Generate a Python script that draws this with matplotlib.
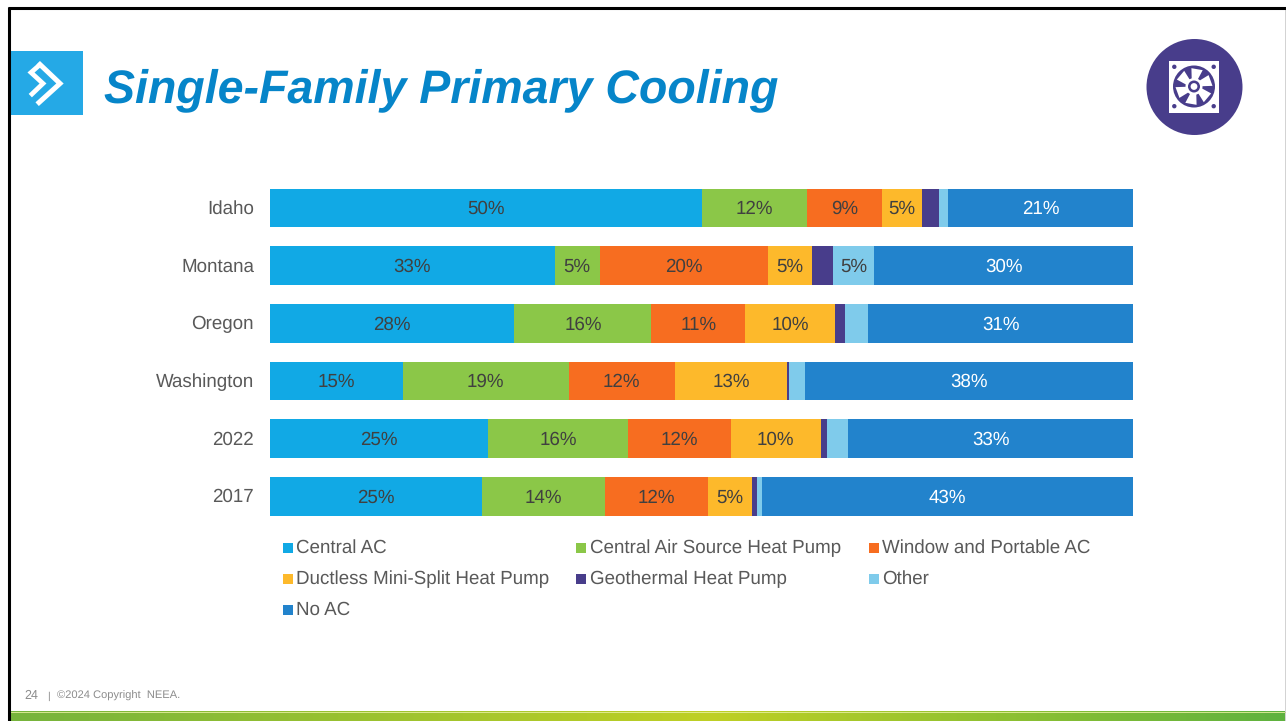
import numpy as np
import matplotlib
matplotlib.use("Agg")
import matplotlib.pyplot as plt
from matplotlib.patches import Rectangle, Circle, Polygon
from matplotlib.colors import LinearSegmentedColormap
from matplotlib.transforms import ScaledTranslation

plt.rcParams['font.family'] = ['Liberation Sans', 'DejaVu Sans']
plt.rcParams['text.hinting'] = 'no_hinting'

W, H = 1286, 721

categories = ['Idaho', 'Montana', 'Oregon', 'Washington', '2022', '2017']
series_names = ['Central AC', 'Central Air Source Heat Pump', 'Window and Portable AC',
                'Ductless Mini-Split Heat Pump', 'Geothermal Heat Pump', 'Other', 'No AC']
central_ac = [50.1, 33.0, 28.3, 15.4, 25.3, 24.52]
central_ashp = [12.1, 5.2, 15.9, 19.2, 16.2, 14.3]
window_ac = [8.7, 19.52, 10.85, 12.3, 11.9, 11.9]
ductless = [4.6, 5.1, 10.4, 13.0, 10.4, 5.1]
geothermal = [2.0, 2.4, 1.2, 0.2, 0.8, 0.6]
other = [1.05, 4.8, 2.7, 1.9, 2.4, 0.6]
no_ac = [21.45, 29.98, 30.65, 38.0, 33.0, 42.98]
series = [central_ac, central_ashp, window_ac, ductless, geothermal, other, no_ac]
colors = ['#11A9E5', '#8BC748', '#F76D20', '#FDB92B', '#483D8B', '#7FCBEB', '#2283CC']
label_colors = ['#404040'] * 6 + ['#FFFFFF']
label_min = 4.5

fig = plt.figure(figsize=(W / 100, H / 100), dpi=100, facecolor='white')

# overlay in pixel coordinates for slide furniture
bg = fig.add_axes([0, 0, 1, 1], zorder=0)
bg.axis('off')

# gradient footer band
cmap = LinearSegmentedColormap.from_list(
    'band', [(0, '#76B43C'), (0.55, '#BFD024'), (1, '#5FB23F')])
bg.imshow(np.linspace(0, 1, 512)[None, :], extent=(10, 1285, 721, 711.5), aspect='auto', cmap=cmap, zorder=1)
bg.set_xlim(0, W)
bg.set_ylim(H, 0)
bg.plot([10, 1285], [711.5, 711.5], color='#E8F0A0', lw=0.6, zorder=2)

# slide border
bg.plot([9, 9], [7, H], color='black', lw=2.2, solid_capstyle='butt', zorder=3)
bg.plot([8, W], [8, 8], color='black', lw=2.2, solid_capstyle='butt', zorder=3)
bg.plot([1285.5, 1285.5], [7, H], color='#222222', lw=1.0, solid_capstyle='butt', zorder=3)

# logo tile
bg.add_patch(Rectangle((10, 51), 73, 64, color='#25A9E6', lw=0, zorder=2))
bg.plot([40, 60, 39], [64.5, 83.5, 102.5], color='white', lw=3.6, solid_joinstyle='miter', zorder=3)
bg.plot([39, 31, 43, 32], [65.5, 72.5, 83.5, 94], color='white', lw=3.4, solid_joinstyle='miter', zorder=3)

# title
bg.text(104, 90, 'Single-Family Primary Cooling', color='#0685C9', fontsize=33.5,
        fontweight='bold', fontstyle='italic', ha='left', va='center', zorder=3)

# fan icon
ICON = '#483D8B'
cx, cy = 1194.5, 87
fx, fy = 1194, 86.5
bg.add_patch(Circle((cx, cy), 48, color=ICON, lw=0, zorder=2))
bg.add_patch(Rectangle((1169, 61), 50, 52, color='white', lw=0, zorder=3))
bg.add_patch(Circle((fx, fy), 21, color=ICON, lw=0, zorder=4))
for a in np.arange(0, 360, 60) - 98.0:
    t0, t1, t2 = np.deg2rad([a - 14, a, a + 36])
    pts = [(fx + 6 * np.cos(t0), fy + 6 * np.sin(t0)),
           (fx + 18.5 * np.cos(t1), fy + 18.5 * np.sin(t1)),
           (fx + 18.5 * np.cos(t2), fy + 18.5 * np.sin(t2)),
           (fx + 6 * np.cos(t2), fy + 6 * np.sin(t2))]
    bg.add_patch(Polygon(pts, closed=True, color='white', lw=0, zorder=5))
bg.add_patch(Circle((fx, fy), 8.5, color='white', lw=0, zorder=6))
bg.add_patch(Circle((fx, fy), 6, color=ICON, lw=0, zorder=7))
bg.add_patch(Circle((fx, fy), 3.4, color='white', lw=0, zorder=8))
for dx in (-19.7, 19.7):
    for dy in (-19.7, 19.7):
        bg.add_patch(Circle((fx + dx, fy + dy), 2.2, color=ICON, lw=0, zorder=5))

# footer text
bg.text(24, 696, '24', color='#8C8C8C', fontsize=9, ha='left', va='center', zorder=3)
bg.text(47.5, 696, '|', color='#8C8C8C', fontsize=7.5, ha='left', va='center', zorder=3)
bg.text(57, 696, '©2024 Copyright  NEEA.', color='#8C8C8C', fontsize=8, ha='left', va='center', zorder=3)

# chart
L, R, T, B = 270, 1133, 179.2, 525.2
ax = fig.add_axes([L / W, 1 - B / H, (R - L) / W, (B - T) / H], zorder=2)
ax.patch.set_alpha(0)
y = np.arange(len(categories))
left = np.zeros(len(categories))
for vals, name, col, lc in zip(series, series_names, colors, label_colors):
    vals = np.array(vals)
    ax.barh(y, vals, left=left, height=0.667, color=col, edgecolor='none', label=name)
    for yi, v, l in zip(y, vals, left):
        if v >= label_min:
            ax.annotate(f'{v:.0f}%', (l + v / 2, yi), xytext=(0, -0.8), textcoords='offset points',
                        color=lc, fontsize=13.5, ha='center', va='center')
    left += vals
ax.set_xlim(0, 100)
ax.set_ylim(len(categories) - 0.5, -0.5)
ax.set_xticks([])
ax.set_yticks(y)
ax.set_yticklabels(categories, color='#595959', fontsize=13.5)
ax.tick_params(axis='y', length=0, pad=11.5)
shift = ScaledTranslation(0, 1 / 100, fig.dpi_scale_trans)
for lab in ax.get_yticklabels():
    lab.set_transform(lab.get_transform() + shift)
for s in ax.spines.values():
    s.set_visible(False)

# legend, laid out on a three-column grid
col_x = [283, 576, 869]
row_y = [548, 579, 610]
for i, (name, col) in enumerate(zip(series_names, colors)):
    r, c = divmod(i, 3)
    bg.add_patch(Rectangle((col_x[c], row_y[r] - 5.5), 10, 10, color=col, lw=0, zorder=3))
    bg.text(col_x[c] + 13.5, row_y[r] - 0.3, name, color='#595959', fontsize=13.5,
            ha='left', va='center', zorder=3)

fig.savefig('out.png', dpi=100)
